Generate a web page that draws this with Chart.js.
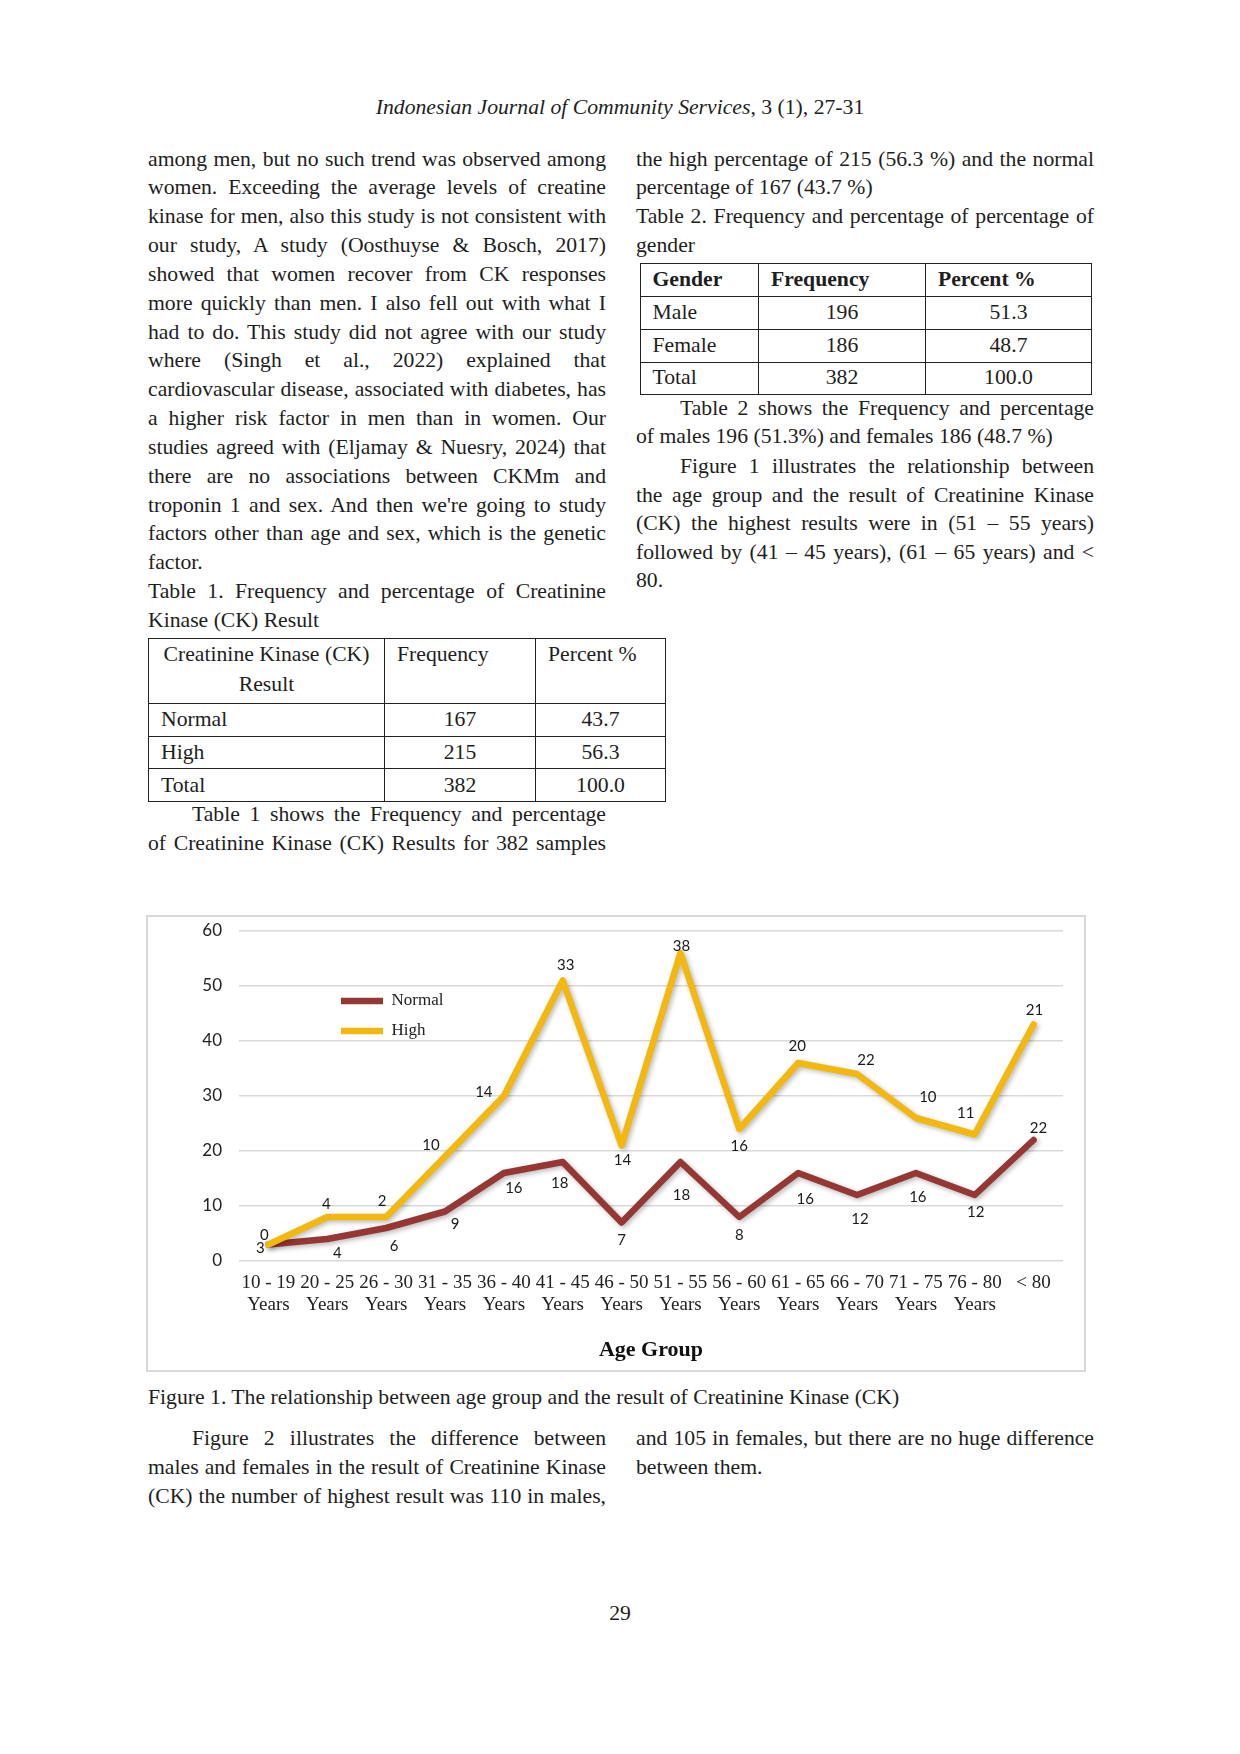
<!DOCTYPE html>
<html>
<head>
<meta charset="utf-8">
<script src="https://cdn.jsdelivr.net/npm/chart.js@4.4.1/dist/chart.umd.min.js"></script>
<style>
  body { margin: 0; background: #fff; }
  #page { position: relative; width: 1240px; height: 1754px; font-family: "Liberation Serif", "Times New Roman", serif; font-size: 21.7px; color: #1e1e1e; overflow: hidden; }
  .ln { position: absolute; height: 29px; line-height: 29px; box-sizing: border-box; }
  .L { left: 148px; width: 458px; }
  .R { left: 636px; width: 458px; }
  .j { text-align: justify; text-align-last: justify; }
  .ind { padding-left: 44px; }
  table.t { position: absolute; border-collapse: collapse; table-layout: fixed; font-size: 21.7px; }
  table.t td { border: 1.5px solid #222; padding: 0; line-height: 1; vertical-align: middle; }
  td.l { text-align: left; padding-left: 12px !important; }
  td.c { text-align: center; }
  td.top { vertical-align: top !important; line-height: 30px !important; }
  td.b { font-weight: bold; }
  #chartFrame { position: absolute; left: 146px; top: 915px; width: 940px; height: 457px; box-sizing: border-box; border: 2px solid #d9d9d9; }
  #chartBox { position: absolute; left: 146px; top: 915px; width: 940px; height: 457px; }
</style>
</head>
<body>
<div id="page">
  <div class="ln" style="left:0;width:1240px;top:93px;text-align:center;"><i>Indonesian Journal of Community Services</i>, 3 (1), 27-31</div>

  <!-- Left column -->
  <div class="ln L j" style="top:144.5px">among men, but no such trend was observed among</div>
  <div class="ln L j" style="top:173.3px">women. Exceeding the average levels of creatine</div>
  <div class="ln L j" style="top:202.2px">kinase for men, also this study is not consistent with</div>
  <div class="ln L j" style="top:231px">our study, A study (Oosthuyse &amp; Bosch, 2017)</div>
  <div class="ln L j" style="top:259.9px">showed that women recover from CK responses</div>
  <div class="ln L j" style="top:288.7px">more quickly than men. I also fell out with what I</div>
  <div class="ln L j" style="top:317.5px">had to do. This study did not agree with our study</div>
  <div class="ln L j" style="top:346.4px">where (Singh et al., 2022) explained that</div>
  <div class="ln L j" style="top:375.2px">cardiovascular disease, associated with diabetes, has</div>
  <div class="ln L j" style="top:404.1px">a higher risk factor in men than in women. Our</div>
  <div class="ln L j" style="top:432.9px">studies agreed with (Eljamay &amp; Nuesry, 2024) that</div>
  <div class="ln L j" style="top:461.7px">there are no associations between CKMm and</div>
  <div class="ln L j" style="top:490.6px">troponin 1 and sex. And then we're going to study</div>
  <div class="ln L j" style="top:519.4px">factors other than age and sex, which is the genetic</div>
  <div class="ln L" style="top:548.3px">factor.</div>
  <div class="ln L j" style="top:577.1px">Table 1. Frequency and percentage of Creatinine</div>
  <div class="ln L" style="top:605.9px">Kinase (CK) Result</div>

  <table class="t" style="left:148px;top:638.4px;width:517px">
    <colgroup><col style="width:236px"><col style="width:151px"><col style="width:130px"></colgroup>
    <tr style="height:65px"><td class="c top">Creatinine Kinase (CK)<br>Result</td><td class="l top">Frequency</td><td class="l top">Percent %</td></tr>
    <tr style="height:32.5px"><td class="l">Normal</td><td class="c">167</td><td class="c">43.7</td></tr>
    <tr style="height:32.5px"><td class="l">High</td><td class="c">215</td><td class="c">56.3</td></tr>
    <tr style="height:33px"><td class="l">Total</td><td class="c">382</td><td class="c">100.0</td></tr>
  </table>

  <div class="ln L j ind" style="top:799.5px">Table 1 shows the Frequency and percentage</div>
  <div class="ln L j" style="top:829px">of Creatinine Kinase (CK) Results for 382 samples</div>

  <!-- Right column -->
  <div class="ln R j" style="top:144.5px">the high percentage of 215 (56.3 %) and the normal</div>
  <div class="ln R" style="top:173.3px">percentage of 167 (43.7 %)</div>
  <div class="ln R j" style="top:202.2px">Table 2. Frequency and percentage of percentage of</div>
  <div class="ln R" style="top:231px">gender</div>

  <table class="t" style="left:639.5px;top:263px;width:451.5px">
    <colgroup><col style="width:118.5px"><col style="width:167px"><col style="width:166px"></colgroup>
    <tr style="height:33px"><td class="l b">Gender</td><td class="l b">Frequency</td><td class="l b">Percent %</td></tr>
    <tr style="height:33px"><td class="l">Male</td><td class="c">196</td><td class="c">51.3</td></tr>
    <tr style="height:32.5px"><td class="l">Female</td><td class="c">186</td><td class="c">48.7</td></tr>
    <tr style="height:32.5px"><td class="l">Total</td><td class="c">382</td><td class="c">100.0</td></tr>
  </table>

  <div class="ln R j ind" style="top:394.3px">Table 2 shows the Frequency and percentage</div>
  <div class="ln R" style="top:422.3px">of males 196 (51.3%) and females 186 (48.7 %)</div>
  <div class="ln R j ind" style="top:451.5px">Figure 1 illustrates the relationship between</div>
  <div class="ln R j" style="top:480.5px">the age group and the result of Creatinine Kinase</div>
  <div class="ln R j" style="top:508.5px">(CK) the highest results were in (51 – 55 years)</div>
  <div class="ln R j" style="top:537.5px">followed by (41 – 45 years), (61 – 65 years) and &lt;</div>
  <div class="ln R" style="top:565.7px">80.</div>

  <!-- Chart -->
  <div id="chartFrame"></div>
  <div id="chartBox"><canvas id="chart"></canvas></div>

  <div class="ln" style="left:148px;top:1383.3px;width:1000px">Figure 1. The relationship between age group and the result of Creatinine Kinase (CK)</div>

  <div class="ln L j ind" style="top:1423.5px">Figure 2 illustrates the difference between</div>
  <div class="ln L j" style="top:1452.5px">males and females in the result of Creatinine Kinase</div>
  <div class="ln L j" style="top:1481.5px">(CK) the number of highest result was 110 in males,</div>
  <div class="ln R j" style="top:1423.5px">and 105 in females, but there are no huge difference</div>
  <div class="ln R" style="top:1452.5px">between them.</div>

  <div class="ln" style="left:0;width:1240px;top:1598.5px;text-align:center;">29</div>
</div>

<script>
// ---- Data ----
const ageGroups = ['10 - 19', '20 - 25', '26 - 30', '31 - 35', '36 - 40', '41 - 45', '46 - 50',
                   '51 - 55', '56 - 60', '61 - 65', '66 - 70', '71 - 75', '76 - 80', '< 80'];
const ageUnits = ['Years', 'Years', 'Years', 'Years', 'Years', 'Years', 'Years',
                  'Years', 'Years', 'Years', 'Years', 'Years', 'Years', ''];
const normalCounts = [3, 4, 6, 9, 16, 18, 7, 18, 8, 16, 12, 16, 12, 22];
const highCounts   = [0, 4, 2, 10, 14, 33, 14, 38, 16, 20, 22, 10, 11, 21];
const yTickValues  = [0, 10, 20, 30, 40, 50, 60];
const seriesNames  = ['Normal', 'High'];
const xAxisTitle   = 'Age Group';

// ---- Styling (label placement relative to each point, in px) ----
const labelOffsets = [
  [[-8,4],[10,14],[8,18],[10,13],[10,15],[-3,21],[0,18],[1,33],[0,18],[7,26],[3,24],[2,24],[1,17],[5,-12]],
  [[-4,-9],[-1,-13],[-4,-16],[-14,-11],[-20,-4],[3,-15],[1,15],[1,-7],[0,17],[-1,-17],[9,-14],[12,-21],[-9,-21],[1,-14]]
];

const labels = ageGroups.map((g, i) => ageUnits[i] ? [g, ageUnits[i]] : g);

const shadowOn = (ctx) => {
  ctx.shadowColor = 'rgba(0,0,0,0.28)';
  ctx.shadowBlur = 5;
  ctx.shadowOffsetX = 2;
  ctx.shadowOffsetY = 2;
};

const excelLook = {
  id: 'excelLook',
  afterUpdate(chart) {
    const lg = chart.legend;
    if (lg) {
      const w = lg.width, h = lg.height;
      lg.left = 182; lg.top = 64.5;
      lg.right = lg.left + w; lg.bottom = lg.top + h;
    }
  },
  beforeDatasetDraw(chart, args) {
    if (args.index === 1 && !chart.$drawHigh) return false;
    chart.ctx.save();
    shadowOn(chart.ctx);
  },
  afterDatasetDraw(chart, args) {
    chart.ctx.restore();
  },
  afterDatasetsDraw(chart) {
    const ctx = chart.ctx;
    // draw the "High" series last so it sits on top
    chart.$drawHigh = true;
    ctx.save();
    shadowOn(ctx);
    chart.getDatasetMeta(1).controller.draw();
    ctx.restore();
    chart.$drawHigh = false;

    // data labels (raw values)
    ctx.save();
    ctx.font = '15px Lato, "Open Sans", sans-serif';
    ctx.fillStyle = '#1a1a1a';
    ctx.textAlign = 'center';
    ctx.textBaseline = 'middle';
    chart.data.datasets.forEach((ds, d) => {
      const meta = chart.getDatasetMeta(d);
      meta.data.forEach((pt, i) => {
        const off = labelOffsets[d][i];
        ctx.fillText(String(ds.data[i]), pt.x + off[0], pt.y + off[1]);
      });
    });
    ctx.restore();
  }
};

new Chart(document.getElementById('chart'), {
  type: 'line',
  data: {
    labels: labels,
    datasets: [
      {
        label: seriesNames[0],
        data: normalCounts,
        borderColor: '#953735',
        backgroundColor: '#953735',
        borderWidth: 6.5,
        borderCapStyle: 'round',
        borderJoinStyle: 'round',
        pointRadius: 0,
        tension: 0,
        fill: false
      },
      {
        label: seriesNames[1],
        data: highCounts,
        borderColor: '#f2b80f',
        backgroundColor: '#f2b80f',
        borderWidth: 6.5,
        borderCapStyle: 'round',
        borderJoinStyle: 'round',
        pointRadius: 0,
        tension: 0,
        fill: false
      }
    ]
  },
  options: {
    responsive: true,
    maintainAspectRatio: false,
    animation: false,
    events: [],
    layout: { padding: { left: 0, right: 23, top: 16, bottom: 0 } },
    plugins: {
      tooltip: { enabled: false },
      legend: {
        position: 'chartArea',
        align: 'start',
        labels: {
          usePointStyle: true,
          pointStyle: 'line',
          pointStyleWidth: 42,
          padding: 13,
          color: '#222',
          font: { family: '"Liberation Serif", "Times New Roman", serif', size: 17 }
        }
      }
    },
    scales: {
      x: {
        offset: true,
        grid: { display: false, drawTicks: false },
        border: { display: false },
        ticks: {
          autoSkip: false,
          maxRotation: 0,
          minRotation: 0,
          padding: 11,
          color: '#222',
          font: { family: '"Liberation Serif", "Times New Roman", serif', size: 19, lineHeight: 1.15 }
        },
        title: {
          display: true,
          text: xAxisTitle,
          color: '#111',
          padding: { top: 8, bottom: 8 },
          font: { family: '"Liberation Serif", "Times New Roman", serif', size: 22, weight: 'bold', lineHeight: 1.2 }
        },
        afterFit(scale) { scale.height = 111; }
      },
      y: {
        stacked: true,
        min: 0,
        max: 60,
        grid: { color: '#d9d9d9', lineWidth: 1.5, drawTicks: false },
        border: { display: false },
        ticks: {
          padding: 17,
          color: '#222',
          font: { family: 'Lato, "Open Sans", sans-serif', size: 17 }
        },
        afterBuildTicks(scale) { scale.ticks = yTickValues.map(v => ({ value: v })); },
        afterFit(scale) {
          scale.width = 93;
          scale.paddingTop = 0;
          scale.paddingBottom = 0;
        }
      }
    }
  },
  plugins: [excelLook]
});
</script>
</body>
</html>
